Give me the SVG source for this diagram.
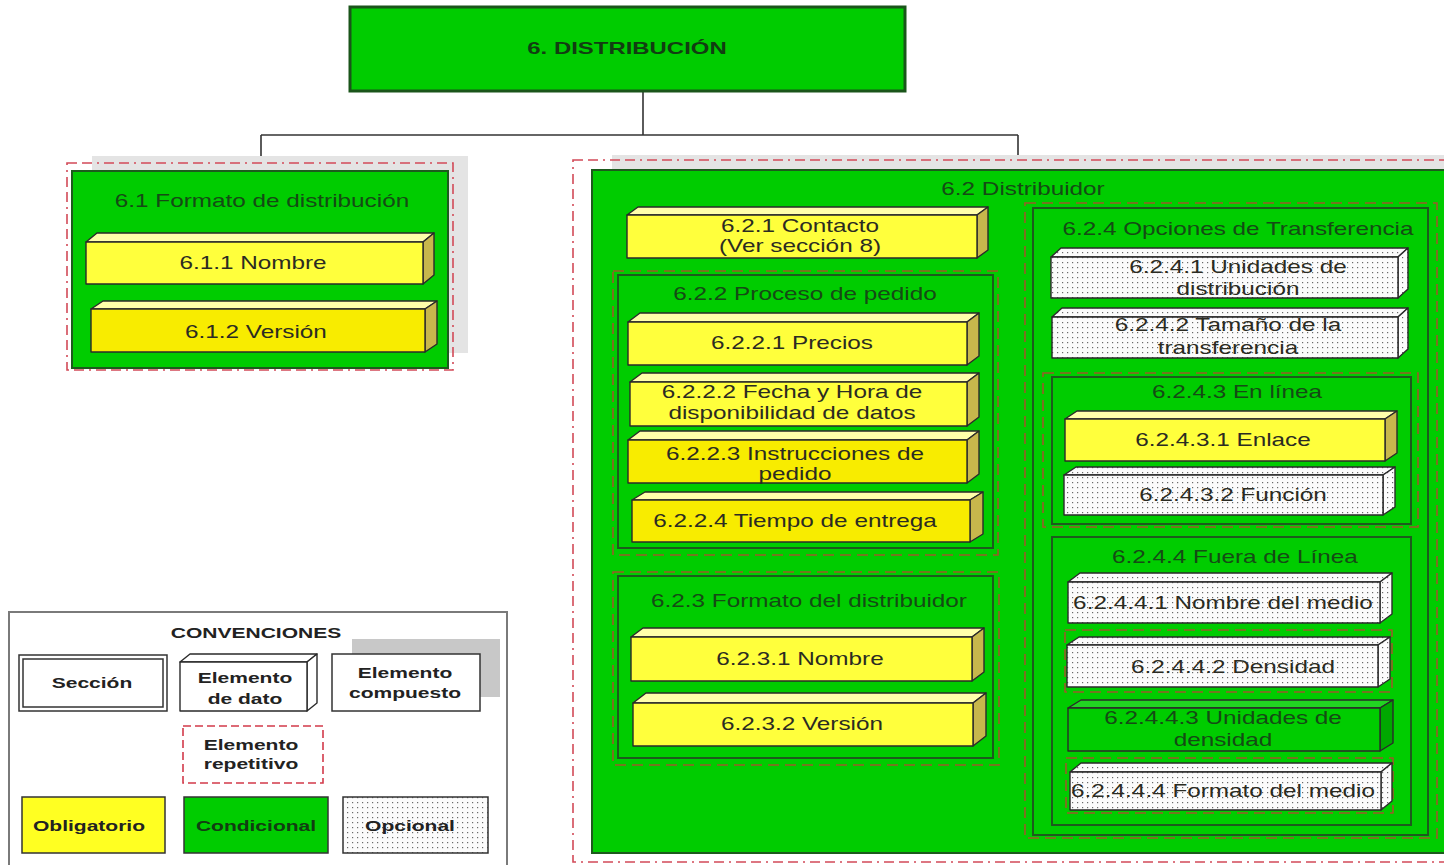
<svg xmlns="http://www.w3.org/2000/svg" width="1444" height="865" viewBox="0 0 1444 865">
  <defs>
    <pattern id="dots" width="5" height="5" patternUnits="userSpaceOnUse">
      <rect width="5" height="5" fill="#fbfbfb"/>
      <rect x="2" y="2" width="1.2" height="1.2" fill="#6a6a6a"/>
    </pattern>
    <style>
      text { font-family: "Liberation Sans", Arial, sans-serif; font-size: 18px; text-anchor: middle; fill: #2b2b22; }
      .sx { transform-box: fill-box; transform-origin: center; transform: scaleX(1.35); }
      .sxl { transform-box: fill-box; transform-origin: center; transform: scaleX(1.42); font-size: 14.8px; font-weight: bold; fill: #222; }
      .sxt { transform-box: fill-box; transform-origin: center; transform: scaleX(1.45); font-size: 16.5px; font-weight: bold; fill: #123d12; }
      .gt { fill: #154a15; }
      .sec { fill: #00cc00; stroke: #1d5a1d; stroke-width: 2; }
      .shadow { fill: #e4e4e4; }
      .rep { fill: none; stroke: #d24a58; stroke-width: 1.6; stroke-dasharray: 10 5 10 5 2 5; }
      .rep-in { fill: none; stroke: #9a5a2a; stroke-width: 1.6; stroke-dasharray: 11 6; }
      .edge { stroke: #2a2a2a; stroke-width: 1.4; stroke-linejoin: round; }
      .y .front { fill: #ffff3c; }
      .y2 .front { fill: #f8ec00; }
      .y .top, .y2 .top { fill: #ffffaa; }
      .y .side, .y2 .side { fill: #c7b74c; }
      .o .front, .o .top, .o .side { fill: url(#dots); }
      .g .front { fill: #00cc00; }
      .g .top { fill: #22d422; }
      .g .side { fill: #00a800; }
      .wire { fill: none; stroke: #333; stroke-width: 1.6; }
    </style>
  </defs>

  <rect width="1444" height="865" fill="#ffffff"/>

  <!-- connectors -->
  <g id="connectors" class="wire">
    <polyline points="643,91 643,135"/>
    <polyline points="261,135 1018,135"/>
    <polyline points="261,135 261,171"/>
    <polyline points="1018,135 1018,160"/>
  </g>

  <!-- root section -->
  <g id="n6">
    <rect x="350" y="7" width="555" height="84" fill="#00cc00" stroke="#1a551a" stroke-width="3"/>
    <text class="sxt" x="627" y="54">6. DISTRIBUCIÓN</text>
  </g>

  <!-- 6.1 -->
  <g id="n6-1">
    <rect class="shadow" x="92" y="156" width="376" height="197"/>
    <rect class="rep" x="67" y="163" width="386" height="207"/>
    <rect class="sec" x="72" y="171" width="376" height="197"/>
    <text class="sx gt" x="262" y="207">6.1 Formato de distribución</text>
  </g>
  <g id="n6-1-1" class="y edge">
    <polygon class="top" points="86,242 97,233 434,233 423,242"/>
    <polygon class="side" points="423,242 434,233 434,275 423,284"/>
    <rect class="front" x="86" y="242" width="337" height="42"/>
    <text class="sx" x="253" y="269" stroke="none">6.1.1 Nombre</text>
  </g>
  <g id="n6-1-2" class="y2 edge">
    <polygon class="top" points="91,309 103,301 437,301 425,309"/>
    <polygon class="side" points="425,309 437,301 437,344 425,352"/>
    <rect class="front" x="91" y="309" width="334" height="43"/>
    <text class="sx" x="256" y="338" stroke="none">6.1.2 Versión</text>
  </g>

  <!-- 6.2 -->
  <g id="n6-2">
    <rect class="shadow" x="612" y="155" width="850" height="683"/>
    <rect class="rep" x="573" y="160" width="890" height="702"/>
    <rect class="sec" x="592" y="170" width="870" height="683"/>
    <text class="sx gt" x="1023" y="195">6.2 Distribuidor</text>
  </g>
  <g id="n6-2-1" class="y edge">
    <polygon class="top" points="627,215 638,207 988,207 977,215"/>
    <polygon class="side" points="977,215 988,207 988,250 977,258"/>
    <rect class="front" x="627" y="215" width="350" height="43"/>
    <text class="sx" x="800" y="232" stroke="none">6.2.1 Contacto</text>
    <text class="sx" x="800" y="252" stroke="none">(Ver sección 8)</text>
  </g>

  <!-- 6.2.2 -->
  <g id="n6-2-2">
    <rect class="rep-in" x="613" y="271" width="385" height="284"/>
    <rect class="sec" x="618" y="275" width="375" height="273"/>
    <text class="sx gt" x="805" y="300">6.2.2 Proceso de pedido</text>
  </g>
  <g id="n6-2-2-1" class="y edge">
    <polygon class="top" points="628,322 640,313 979,313 967,322"/>
    <polygon class="side" points="967,322 979,313 979,356 967,365"/>
    <rect class="front" x="628" y="322" width="339" height="43"/>
    <text class="sx" x="792" y="349" stroke="none">6.2.2.1 Precios</text>
  </g>
  <g id="n6-2-2-2" class="y edge">
    <polygon class="top" points="630,382 642,373 979,373 967,382"/>
    <polygon class="side" points="967,382 979,373 979,417 967,426"/>
    <rect class="front" x="630" y="382" width="337" height="44"/>
    <text class="sx" x="792" y="398" stroke="none">6.2.2.2 Fecha y Hora de</text>
    <text class="sx" x="792" y="419" stroke="none">disponibilidad de datos</text>
  </g>
  <g id="n6-2-2-3" class="y2 edge">
    <polygon class="top" points="628,440 640,431 979,431 967,440"/>
    <polygon class="side" points="967,440 979,431 979,474 967,483"/>
    <rect class="front" x="628" y="440" width="339" height="43"/>
    <text class="sx" x="795" y="460" stroke="none">6.2.2.3 Instrucciones de</text>
    <text class="sx" x="795" y="480" stroke="none">pedido</text>
  </g>
  <g id="n6-2-2-4" class="y2 edge">
    <polygon class="top" points="632,500 645,492 983,492 970,500"/>
    <polygon class="side" points="970,500 983,492 983,534 970,542"/>
    <rect class="front" x="632" y="500" width="338" height="42"/>
    <text class="sx" x="795" y="527" stroke="none">6.2.2.4 Tiempo de entrega</text>
  </g>

  <!-- 6.2.3 -->
  <g id="n6-2-3">
    <rect class="rep-in" x="613" y="572" width="386" height="193"/>
    <rect class="sec" x="618" y="576" width="375" height="182"/>
    <text class="sx gt" x="809" y="607">6.2.3 Formato del distribuidor</text>
  </g>
  <g id="n6-2-3-1" class="y edge">
    <polygon class="top" points="631,637 643,628 984,628 972,637"/>
    <polygon class="side" points="972,637 984,628 984,672 972,681"/>
    <rect class="front" x="631" y="637" width="341" height="44"/>
    <text class="sx" x="800" y="665" stroke="none">6.2.3.1 Nombre</text>
  </g>
  <g id="n6-2-3-2" class="y edge">
    <polygon class="top" points="633,703 646,693 986,693 973,703"/>
    <polygon class="side" points="973,703 986,693 986,736 973,746"/>
    <rect class="front" x="633" y="703" width="340" height="43"/>
    <text class="sx" x="802" y="730" stroke="none">6.2.3.2 Versión</text>
  </g>

  <!-- 6.2.4 -->
  <g id="n6-2-4">
    <rect class="rep-in" x="1025" y="203" width="412" height="635"/>
    <rect class="sec" x="1033" y="208" width="395" height="627"/>
    <text class="sx gt" x="1238" y="235">6.2.4 Opciones de Transferencia</text>
  </g>
  <g id="n6-2-4-1" class="o edge">
    <polygon class="top" points="1051,257 1061,248 1408,248 1398,257"/>
    <polygon class="side" points="1398,257 1408,248 1408,289 1398,298"/>
    <rect class="front" x="1051" y="257" width="347" height="41"/>
    <text class="sx" x="1238" y="273" stroke="none">6.2.4.1 Unidades de</text>
    <text class="sx" x="1238" y="295" stroke="none">distribución</text>
  </g>
  <g id="n6-2-4-2" class="o edge">
    <polygon class="top" points="1052,317 1062,308 1408,308 1398,317"/>
    <polygon class="side" points="1398,317 1408,308 1408,349 1398,358"/>
    <rect class="front" x="1052" y="317" width="346" height="41"/>
    <text class="sx" x="1228" y="331" stroke="none">6.2.4.2 Tamaño de la</text>
    <text class="sx" x="1228" y="354" stroke="none">transferencia</text>
  </g>

  <!-- 6.2.4.3 -->
  <g id="n6-2-4-3">
    <rect class="rep-in" x="1043" y="373" width="375" height="154"/>
    <rect class="sec" x="1052" y="377" width="359" height="147"/>
    <text class="sx gt" x="1237" y="398">6.2.4.3 En línea</text>
  </g>
  <g id="n6-2-4-3-1" class="y edge">
    <polygon class="top" points="1065,419 1077,411 1397,411 1385,419"/>
    <polygon class="side" points="1385,419 1397,411 1397,453 1385,461"/>
    <rect class="front" x="1065" y="419" width="320" height="42"/>
    <text class="sx" x="1223" y="446" stroke="none">6.2.4.3.1 Enlace</text>
  </g>
  <g id="n6-2-4-3-2" class="o edge">
    <polygon class="top" points="1064,475 1076,467 1395,467 1383,475"/>
    <polygon class="side" points="1383,475 1395,467 1395,507 1383,515"/>
    <rect class="front" x="1064" y="475" width="319" height="40"/>
    <text class="sx" x="1233" y="501" stroke="none">6.2.4.3.2 Función</text>
  </g>

  <!-- 6.2.4.4 -->
  <g id="n6-2-4-4">
    <rect class="sec" x="1052" y="537" width="359" height="288"/>
    <text class="sx gt" x="1235" y="563">6.2.4.4 Fuera de Línea</text>
  </g>
  <g id="n6-2-4-4-1" class="o edge">
    <polygon class="top" points="1068,582 1080,573 1392,573 1380,582"/>
    <polygon class="side" points="1380,582 1392,573 1392,614 1380,623"/>
    <rect class="front" x="1068" y="582" width="312" height="41"/>
    <text class="sx" x="1223" y="609" stroke="none">6.2.4.4.1 Nombre del medio</text>
  </g>
  <g id="n6-2-4-4-2" class="o edge">
    <rect class="rep-in" x="1065" y="630" width="327" height="62" stroke-width="1.4"/>
    <polygon class="top" points="1067,645 1079,637 1390,637 1378,645"/>
    <polygon class="side" points="1378,645 1390,637 1390,679 1378,687"/>
    <rect class="front" x="1067" y="645" width="311" height="42"/>
    <text class="sx" x="1233" y="673" stroke="none">6.2.4.4.2 Densidad</text>
  </g>
  <g id="n6-2-4-4-3" class="g edge">
    <polygon class="top" points="1068,708 1081,700 1393,700 1380,708"/>
    <polygon class="side" points="1380,708 1393,700 1393,743 1380,751"/>
    <rect class="front" x="1068" y="708" width="312" height="43"/>
    <text class="sx gt" x="1223" y="724" stroke="none">6.2.4.4.3 Unidades de</text>
    <text class="sx gt" x="1223" y="746" stroke="none">densidad</text>
  </g>
  <g id="n6-2-4-4-4" class="o edge">
    <rect class="rep-in" x="1066" y="758" width="327" height="55" stroke-width="1.4"/>
    <polygon class="top" points="1070,772 1081,763 1392,763 1381,772"/>
    <polygon class="side" points="1381,772 1392,763 1392,801 1381,810"/>
    <rect class="front" x="1070" y="772" width="311" height="38"/>
    <text class="sx" x="1223" y="797" stroke="none">6.2.4.4.4 Formato del medio</text>
  </g>

  <!-- key of conventions -->
  <g id="legend">
    <rect x="9" y="612" width="498" height="270" fill="#ffffff" stroke="#7a7a7a" stroke-width="2"/>
    <text class="sxl" x="256" y="638">CONVENCIONES</text>
    <rect x="352" y="639" width="148" height="58" fill="#c8c8c8"/>
    <g id="key-seccion">
      <rect x="19" y="655" width="148" height="56" fill="#fff" stroke="#333" stroke-width="1.5"/>
      <rect x="23" y="659" width="140" height="48" fill="none" stroke="#333" stroke-width="1.5"/>
      <text class="sxl" x="92" y="688">Sección</text>
    </g>
    <g id="key-dato" class="edge">
      <polygon points="180,662 190,654 317,654 307,662" fill="#fff"/>
      <polygon points="307,662 317,654 317,703 307,711" fill="#fff"/>
      <rect x="180" y="662" width="127" height="49" fill="#fff"/>
      <text class="sxl" x="245" y="683" stroke="none">Elemento</text>
      <text class="sxl" x="245" y="704" stroke="none">de dato</text>
    </g>
    <g id="key-compuesto">
      <rect x="332" y="654" width="148" height="57" fill="#fff" stroke="#333" stroke-width="1.5"/>
      <text class="sxl" x="405" y="678">Elemento</text>
      <text class="sxl" x="405" y="698">compuesto</text>
    </g>
    <g id="key-repetitivo">
      <rect x="183" y="726" width="140" height="57" fill="#fff" stroke="#d23a4a" stroke-width="1.6" stroke-dasharray="8 4"/>
      <text class="sxl" x="251" y="750">Elemento</text>
      <text class="sxl" x="251" y="769">repetitivo</text>
    </g>
    <g id="key-obligatorio">
      <rect x="22" y="797" width="143" height="56" fill="#ffff22" stroke="#333" stroke-width="1.5"/>
      <text class="sxl" x="89" y="831">Obligatorio</text>
    </g>
    <g id="key-condicional">
      <rect x="184" y="797" width="144" height="56" fill="#00cc00" stroke="#333" stroke-width="1.5"/>
      <text class="sxl" x="256" y="831" style="fill:#123d12">Condicional</text>
    </g>
    <g id="key-opcional">
      <rect x="343" y="797" width="145" height="56" fill="url(#dots)" stroke="#333" stroke-width="1.5"/>
      <text class="sxl" x="410" y="831">Opcional</text>
    </g>
  </g>
</svg>
